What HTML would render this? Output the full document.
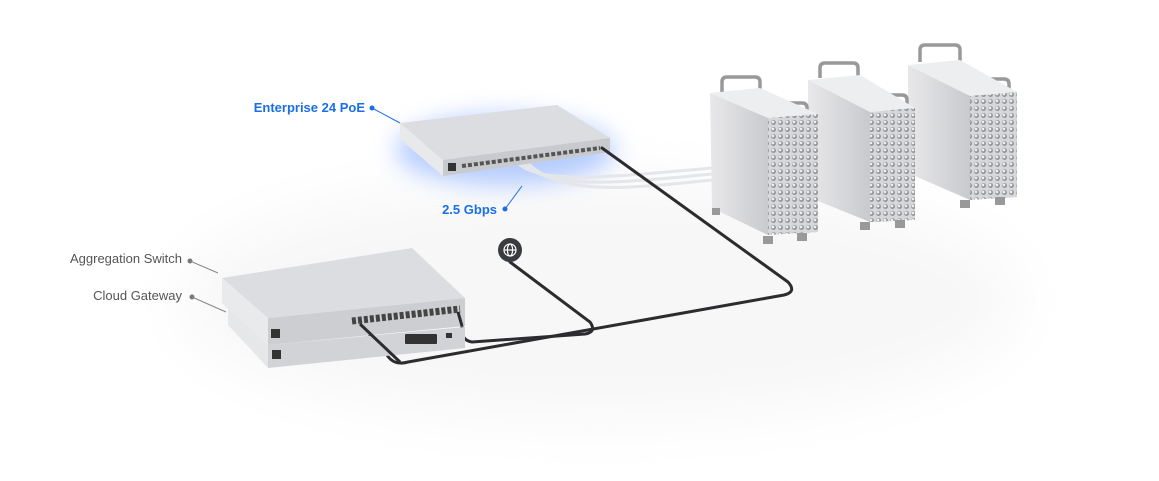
<!DOCTYPE html>
<html><head><meta charset="utf-8"><style>
html,body{margin:0;padding:0;background:#fff;}
svg{display:block;font-family:"Liberation Sans",sans-serif;}
</style></head><body>
<svg width="1159" height="481" viewBox="0 0 1159 481" xmlns="http://www.w3.org/2000/svg">
<defs>
<filter id="blur8" x="-50%" y="-50%" width="200%" height="200%"><feGaussianBlur stdDeviation="12"/></filter>
<filter id="blur20" x="-50%" y="-50%" width="200%" height="200%"><feGaussianBlur stdDeviation="30"/></filter>
<linearGradient id="side" x1="0" y1="0" x2="1" y2="0"><stop offset="0" stop-color="#e8e8ea"/><stop offset="1" stop-color="#c9cacd"/></linearGradient>
<pattern id="holes" width="7" height="7" patternUnits="userSpaceOnUse"><rect width="7" height="7" fill="#d6d7da"/><circle cx="3.5" cy="3.5" r="2.4" fill="#8d8f94"/><circle cx="3" cy="3" r="1.4" fill="#eee"/></pattern>
</defs>
<!-- floor shadow -->
<ellipse cx="600" cy="300" rx="420" ry="120" fill="#f7f7f8" filter="url(#blur20)"/>
<!-- blue glow -->
<ellipse cx="505" cy="150" rx="110" ry="35" fill="#7aa4ff" opacity="0.55" filter="url(#blur8)"/>

<!-- white cables -->
<g fill="none" stroke="#e4e6ea" stroke-width="3">
<path d="M515,160 C535,185 600,178 712,168"/>
<path d="M520,160 C545,190 610,184 712,174"/>
<path d="M525,160 C555,195 620,190 712,180"/>
</g>

<!-- Mac 3 -->
<g>
<path d="M920,62 v-12 q0,-5 5,-5 h30 q5,0 5,5 v12" fill="none" stroke="#999" stroke-width="3.5"/>
<path d="M972,92 v-8 q0,-5 5,-5 h27 q5,0 5,5 v10" fill="none" stroke="#999" stroke-width="3.5"/>
<polygon points="908,65 960,60 1017,92 970,96" fill="#eceeef"/>
<polygon points="908,65 970,96 970,200 908,173" fill="url(#side)"/>
<polygon points="970,96 1017,92 1017,197 970,200" fill="url(#holes)"/>
<rect x="960" y="200" width="10" height="8" fill="#999"/><rect x="995" y="197" width="10" height="8" fill="#999"/>
</g>
<!-- Mac 2 -->
<g>
<path d="M820,78 v-10 q0,-5 5,-5 h28 q5,0 5,5 v10" fill="none" stroke="#999" stroke-width="3.5"/>
<path d="M872,108 v-8 q0,-5 5,-5 h25 q5,0 5,5 v10" fill="none" stroke="#999" stroke-width="3.5"/>
<polygon points="808,80 860,75 915,108 870,112" fill="#eceeef"/>
<polygon points="808,80 870,112 870,222 808,197" fill="url(#side)"/>
<polygon points="870,112 915,108 915,220 870,222" fill="url(#holes)"/>
<rect x="860" y="222" width="10" height="8" fill="#999"/><rect x="895" y="220" width="10" height="8" fill="#999"/>
</g>
<!-- Mac 1 -->
<g>
<path d="M722,92 v-10 q0,-5 5,-5 h28 q5,0 5,5 v10" fill="none" stroke="#999" stroke-width="3.5"/>
<path d="M772,116 v-8 q0,-5 5,-5 h25 q5,0 5,5 v10" fill="none" stroke="#999" stroke-width="3.5"/>
<polygon points="710,93 760,88 818,114 768,118" fill="#eceeef"/>
<polygon points="710,93 768,118 768,235 712,208" fill="url(#side)"/>
<polygon points="768,118 818,114 818,232 768,235" fill="url(#holes)"/>
<rect x="763" y="236" width="10" height="8" fill="#999"/><rect x="797" y="233" width="10" height="8" fill="#999"/>
<rect x="712" y="208" width="8" height="7" fill="#999"/>
</g>

<!-- Enterprise switch -->
<polygon points="400,123 557,105 610,138 443,160" fill="#dcdde0"/>
<polygon points="400,123 443,160 443,176 400,139" fill="#e8e9eb"/>
<polygon points="443,160 610,138 610,152 443,176" fill="#c9cacd"/>
<path d="M462,166 L600,148" stroke="#555" stroke-width="4" stroke-dasharray="4 2"/>
<rect x="448" y="163" width="8" height="8" fill="#333"/>

<!-- cables dark -->
<g fill="none" stroke="#2c2c2e" stroke-width="3" stroke-linecap="round">
<path d="M602,148 L788,282 Q797,292 784,295 L408,362 Q394,366 387,355 L360,324"/>
<path d="M510,262 L590,322 Q597,332 585,334 L472,342 Q460,340 462,326"/>
</g>

<!-- Cloud gateway -->
<polygon points="228,303 268,345 268,368 228,325" fill="#e6e7e9"/>
<polygon points="268,345 465,327 465,348 268,368" fill="#d2d3d6"/>
<rect x="272" y="350" width="9" height="9" fill="#333"/>
<rect x="405" y="334" width="32" height="10" fill="#333" rx="1"/>
<rect x="446" y="333" width="6" height="5" fill="#333"/>
<!-- Aggregation switch -->
<polygon points="222,278 412,248 465,298 268,318" fill="#dcdde0"/>
<polygon points="222,278 268,318 268,345 222,303" fill="#e9eaec"/>
<polygon points="268,318 465,298 465,326 268,345" fill="#cdced1"/>
<path d="M352,321 L460,309" stroke="#444" stroke-width="7" stroke-dasharray="4 2"/>
<rect x="271" y="329" width="9" height="9" fill="#333"/>

<path d="M360,324 L400,362" fill="none" stroke="#2c2c2e" stroke-width="3"/>
<path d="M462,326 L458,312" fill="none" stroke="#2c2c2e" stroke-width="3"/>

<!-- globe -->
<circle cx="510" cy="250" r="12" fill="#3a3b3e"/>
<g fill="none" stroke="#fff" stroke-width="1.2"><circle cx="510" cy="250" r="6"/><ellipse cx="510" cy="250" rx="2.6" ry="6"/><line x1="504" y1="250" x2="516" y2="250"/></g>

<!-- labels -->
<g font-size="13" font-weight="bold">
<text x="365" y="112" text-anchor="end" fill="#1a6fe8">Enterprise 24 PoE</text>
<text x="497" y="214" text-anchor="end" fill="#1a6fe8">2.5 Gbps</text>
</g>
<circle cx="372" cy="108" r="2.5" fill="#1a6fe8"/>
<line x1="372" y1="108" x2="400" y2="123" stroke="#1a6fe8" stroke-width="1"/>
<circle cx="505" cy="209" r="2.5" fill="#1a6fe8"/>
<line x1="505" y1="209" x2="522" y2="186" stroke="#1a6fe8" stroke-width="1"/>
<g font-size="13" fill="#555">
<text x="182" y="263" text-anchor="end">Aggregation Switch</text>
<text x="182" y="300" text-anchor="end">Cloud Gateway</text>
</g>
<circle cx="190" cy="261" r="2.5" fill="#777"/>
<line x1="190" y1="261" x2="218" y2="273" stroke="#888" stroke-width="1"/>
<circle cx="192" cy="297" r="2.5" fill="#777"/>
<line x1="192" y1="297" x2="226" y2="312" stroke="#888" stroke-width="1"/>
</svg>
</body></html>
